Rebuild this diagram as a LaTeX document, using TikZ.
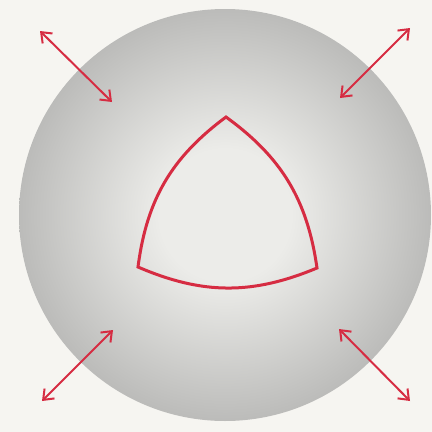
\documentclass[tikz,border=0pt]{standalone}
\usetikzlibrary{arrows.meta}
\definecolor{RTpaper}{RGB}{246,245,241}
\definecolor{RTlight}{RGB}{236,236,233}
\definecolor{RTdark}{RGB}{148,148,147}
\definecolor{RTred}{RGB}{214,44,66}
\pgfdeclareradialshading{ballshade}{\pgfpoint{0bp}{0bp}}{%
  color(0bp)=(RTlight); color(8bp)=(RTlight); color(28bp)=(RTdark!65!RTlight);
  color(50bp)=(RTdark); color(100bp)=(RTdark)}
\tikzset{
  ball/.style={circle,shading=ballshade,inner sep=0pt,minimum size=412pt},
  rim/.style={draw=RTred,line width=3pt,line join=miter},
  push/.style={{Straight Barb[length=9pt,width=14pt,line width=2pt]}-{Straight Barb[length=9pt,width=14pt,line width=2pt]},
               draw=RTred,line width=2pt}
}
\begin{document}
\begin{tikzpicture}[x=1pt,y=-1pt]
  \fill[RTpaper] (0,0) rectangle (432,432);
  \useasboundingbox (0,0) rectangle (432,432);
  % shaded disk
  \node[ball] (disk) at (225,215) {};
  % curved triangle
  \coordinate (top) at (226,117);
  \coordinate (left) at (138,267);
  \coordinate (right) at (317,268);
  \draw[rim] (top) to[bend right=23] (left) to[bend right=23] (right) to[bend right=23] cycle;
  % arrows
  \coordinate (a1) at (40,31);   \coordinate (b1) at (112,102);
  \coordinate (a2) at (410,28);  \coordinate (b2) at (340,98);
  \coordinate (a3) at (42,401);  \coordinate (b3) at (113,330);
  \coordinate (a4) at (410,401); \coordinate (b4) at (339,329);
  \foreach \k in {1,2,3,4}
    \draw[push] (a\k) -- (b\k);
\end{tikzpicture}
\end{document}
